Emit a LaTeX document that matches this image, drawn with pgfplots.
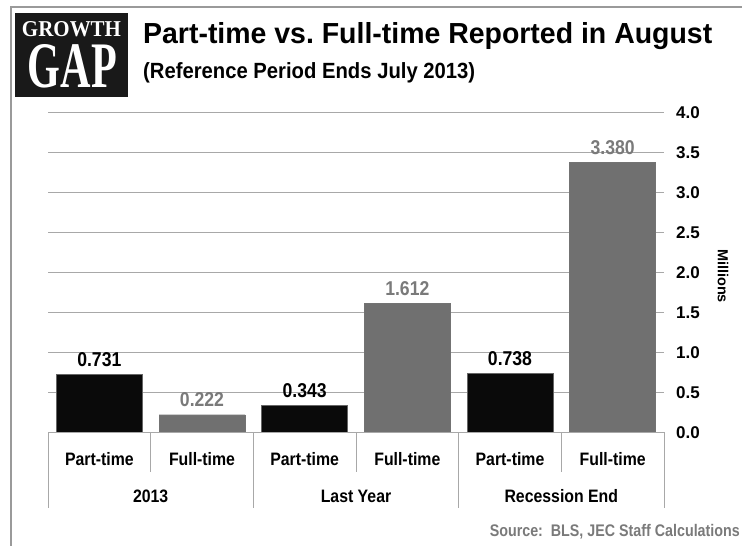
\documentclass[border=0pt]{standalone}
\usepackage{pgfplots}
\pgfplotsset{compat=1.18}
\usepackage{fontspec}
\usepackage{graphicx}
\setmainfont{Liberation Sans}
\newfontfamily\cond{Liberation Sans}[FakeStretch=0.88]
\newfontfamily\srcfont{Liberation Sans}[FakeStretch=0.85]
\newfontfamily\logofont{Liberation Serif}
\definecolor{barblack}{HTML}{0A0A0A}
\definecolor{bargray}{HTML}{707070}
\definecolor{labgray}{HTML}{7A7A7A}
\definecolor{gridgray}{HTML}{A8A8A8}
\definecolor{framegray}{HTML}{9A9A9A}
\newcommand{\fs}[1]{\fontsize{#1}{#1}\selectfont}
\frenchspacing
\begin{document}
\begin{tikzpicture}[x=1pt,y=1pt]
\useasboundingbox (0,0) rectangle (742,546);
% frame
\draw[framegray, line width=1.5pt] (11,0) -- (11,539) -- (742,539);
% logo
\fill[black!90] (15,449) rectangle (128,533);
\node[white, inner sep=0, anchor=south] at (71.5,509) {\resizebox{99pt}{15pt}{\logofont\bfseries GROWTH}};
\node[white, inner sep=0, anchor=north] at (72.5,502) {\resizebox{89pt}{43pt}{\logofont\bfseries GAP}};
% title
\node[anchor=base west, inner sep=0] at (143,502) {\resizebox{569pt}{\height}{\fs{29}\bfseries Part-time vs. Full-time Reported in August}};
\node[anchor=base west, inner sep=0] at (143,467) {\resizebox{332pt}{\height}{\fs{22}\bfseries (Reference Period Ends July 2013)}};
% y label
\node[rotate=-90, inner sep=0] at (723,270) {\fs{14.5}\bfseries Millions};
% source
\node[anchor=base east, inner sep=0, text=labgray] at (740,9) {\resizebox{250pt}{\height}{\srcfont\fs{16.8}\bfseries Source:\ \ BLS, JEC Staff Calculations}};
\begin{axis}[
  at={(48pt,113.5pt)}, anchor=south west,
  scale only axis, width=616pt, height=320pt,
  xmin=-0.5, xmax=5.5, ymin=0, ymax=4,
  axis line style={draw=none},
  major tick length=0pt,
  ytick={0,0.5,...,4},
  ymajorgrids, grid style={gridgray, line width=1.2pt},
  yticklabel pos=right,
  yticklabel={\pgfmathprintnumber[fixed,fixed zerofill,precision=1,assume math mode=true]{\tick}},
  yticklabel style={anchor=west, xshift=12pt, inner sep=0pt,
    font=\bfseries\fs{17}},
  xtick={0,...,5},
  xticklabels={Part-time,Full-time,Part-time,Full-time,Part-time,Full-time},
  xticklabel style={anchor=center, yshift=-26.5pt, inner sep=0pt, font=\cond\bfseries\fs{18}},
  clip=false,
  nodes near coords={\pgfmathprintnumber[fixed,fixed zerofill,precision=3,assume math mode=true]{\pgfplotspointmeta}},
  nodes near coords style={anchor=base, yshift=8pt, inner sep=0pt, font=\cond\bfseries\fs{20}},
]
\addplot[ybar, bar shift=0pt, bar width=86pt, fill=barblack, draw=black!60,
  nodes near coords style={text=black}]
  coordinates {(0,0.731) (2,0.343) (4,0.738)};
\addplot[ybar, bar shift=0pt, bar width=86pt, fill=bargray, draw=black!55,
  nodes near coords style={text=labgray}]
  coordinates {(1,0.222) (3,1.612) (5,3.380)};
% separators
\draw[gridgray, line width=1pt] (axis cs:-0.5,0) -- (axis cs:5.5,0);
\draw[gridgray, line width=1pt] (axis cs:0.5,0) -- ([yshift=-40pt]axis cs:0.5,0);
\draw[gridgray, line width=1pt] (axis cs:2.5,0) -- ([yshift=-40pt]axis cs:2.5,0);
\draw[gridgray, line width=1pt] (axis cs:4.5,0) -- ([yshift=-40pt]axis cs:4.5,0);
\draw[gridgray, line width=1pt] (axis cs:-0.5,0) -- ([yshift=-76pt]axis cs:-0.5,0);
\draw[gridgray, line width=1pt] (axis cs:1.5,0) -- ([yshift=-76pt]axis cs:1.5,0);
\draw[gridgray, line width=1pt] (axis cs:3.5,0) -- ([yshift=-76pt]axis cs:3.5,0);
\draw[gridgray, line width=1pt] (axis cs:5.5,0) -- ([yshift=-76pt]axis cs:5.5,0);
\node[font=\cond\bfseries\fs{18}, inner sep=0] at ([yshift=-64pt]axis cs:0.5,0) {2013};
\node[font=\cond\bfseries\fs{18}, inner sep=0] at ([yshift=-64pt]axis cs:2.5,0) {Last Year};
\node[font=\cond\bfseries\fs{18}, inner sep=0] at ([yshift=-64pt]axis cs:4.5,0) {Recession End};
\end{axis}
\end{tikzpicture}
\end{document}
